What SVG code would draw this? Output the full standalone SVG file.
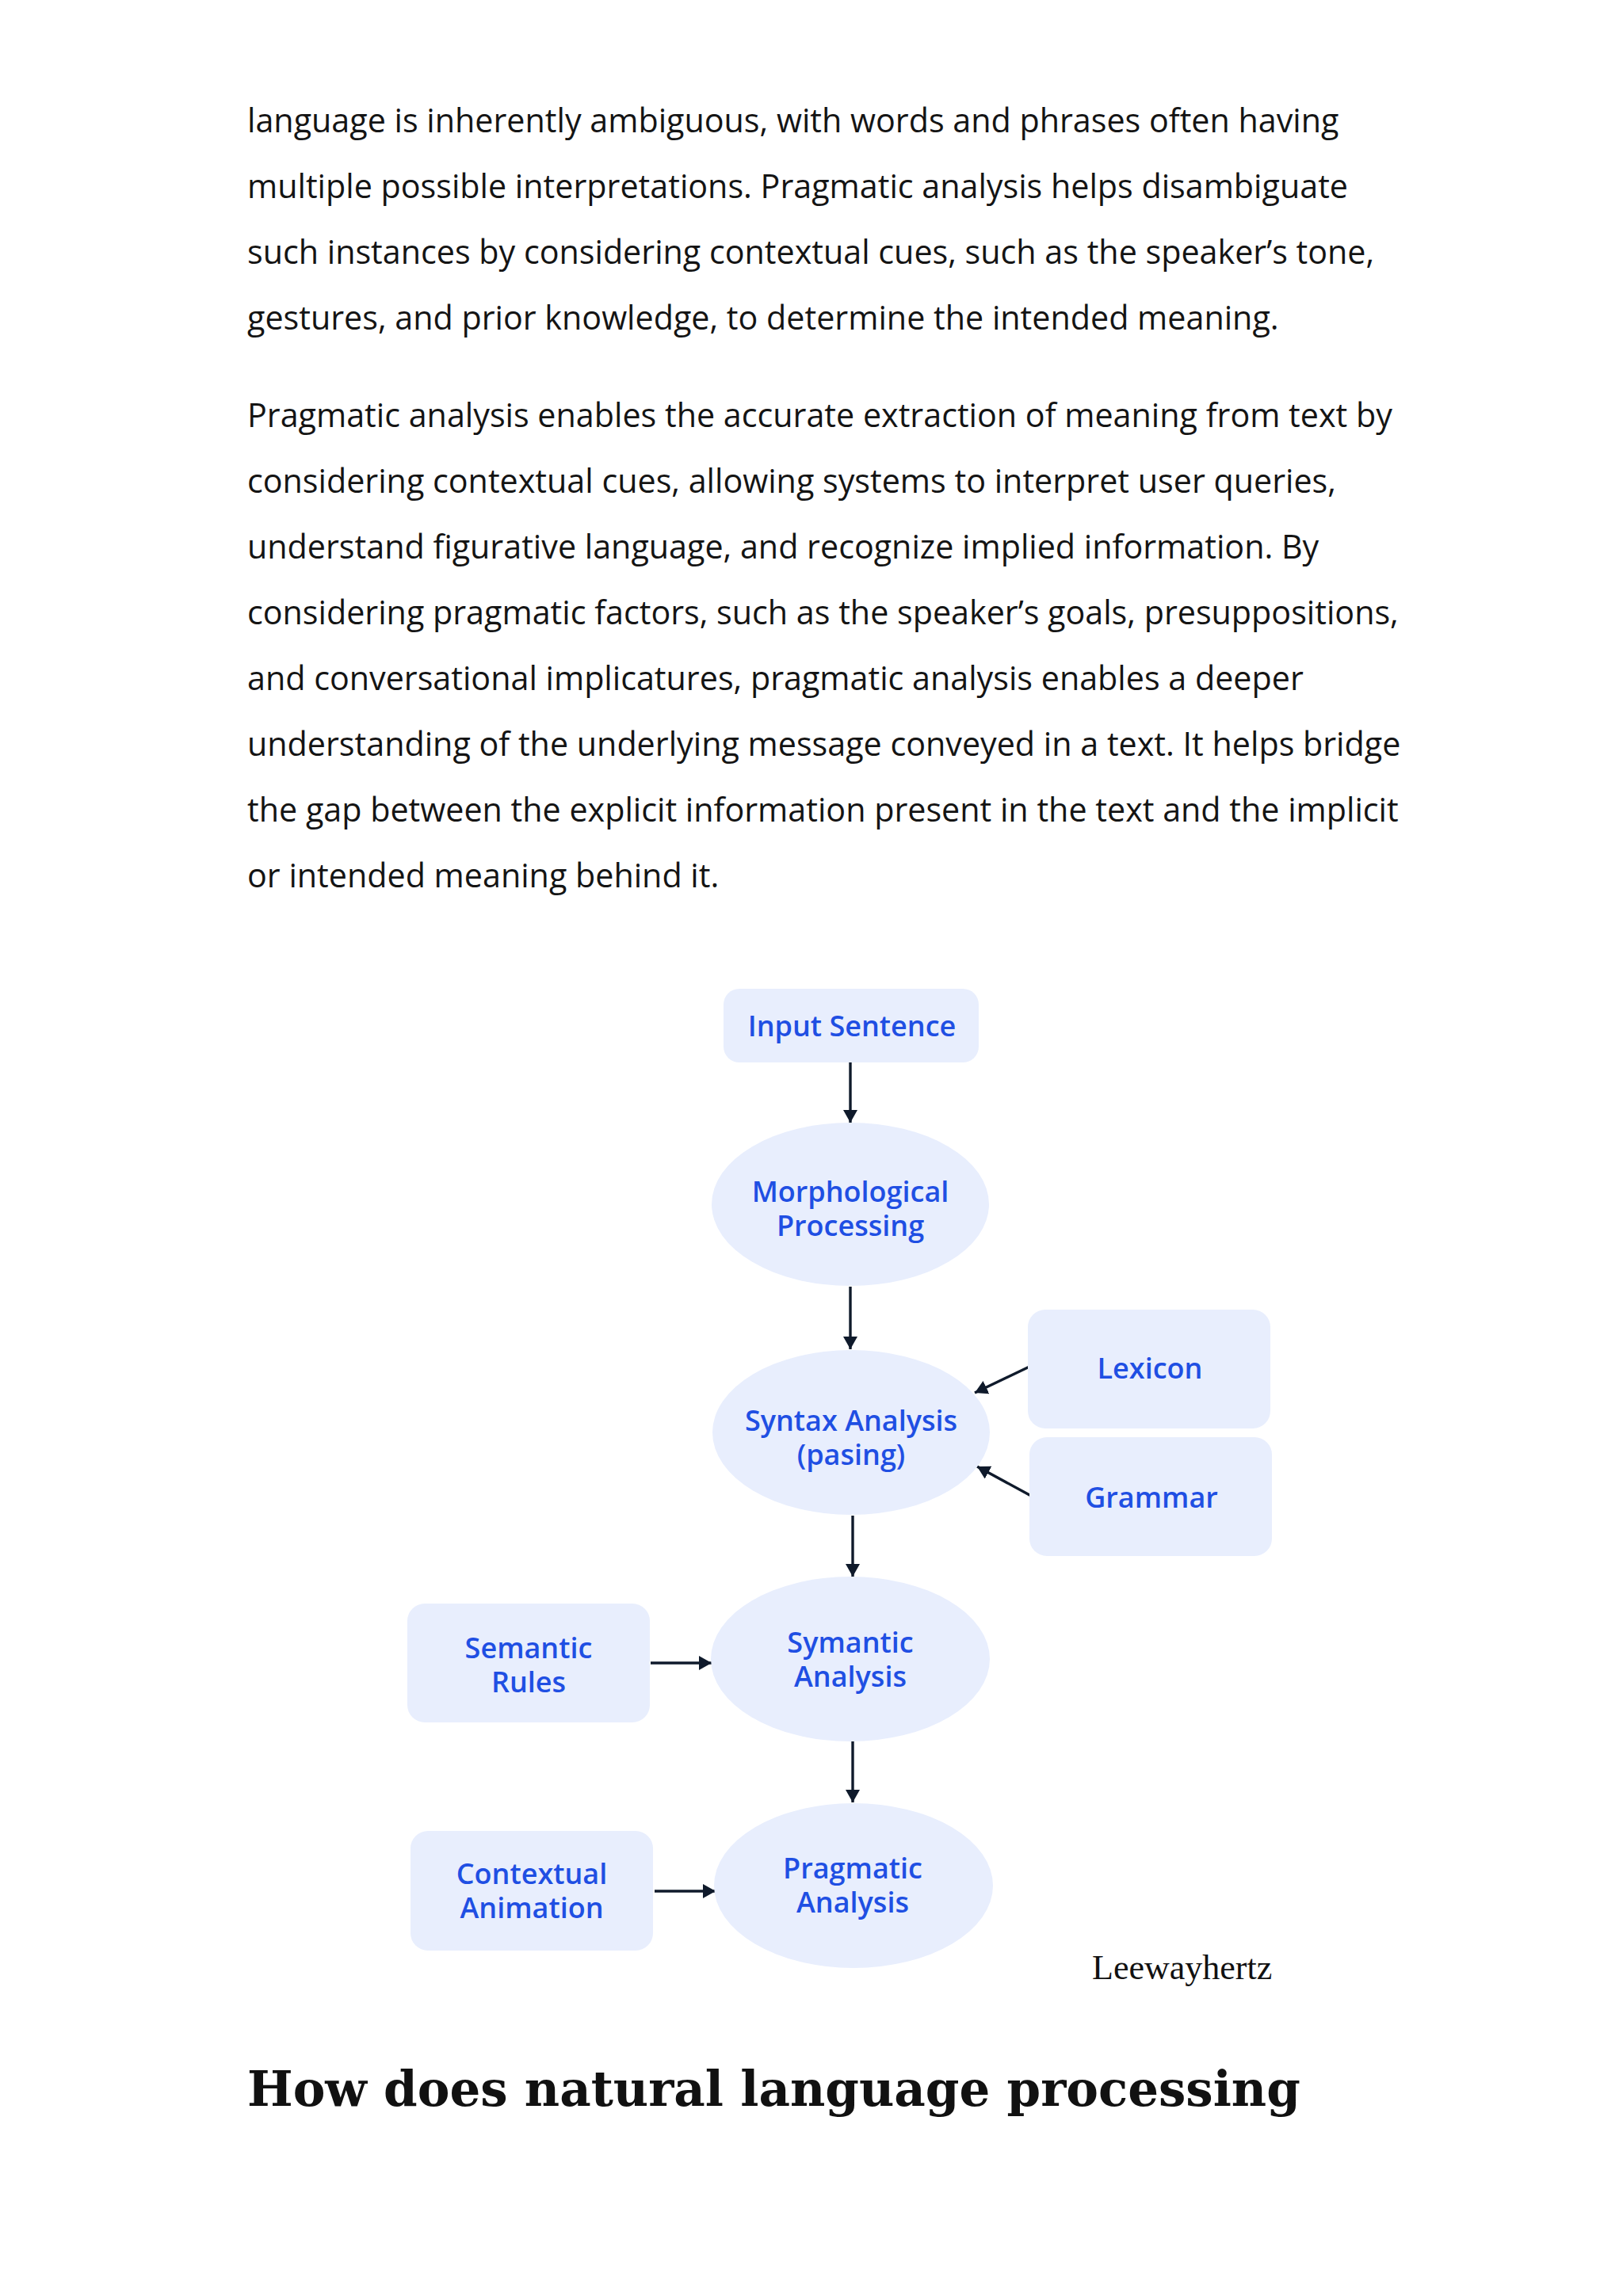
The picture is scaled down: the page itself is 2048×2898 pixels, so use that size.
<svg xmlns="http://www.w3.org/2000/svg" width="2048" height="2898" viewBox="0 0 2048 2898">
<defs>
<style>
.body{font-family:"Open Sans","Noto Sans",sans-serif;font-size:41.25px;fill:#141414}
.lbl{font-family:"Open Sans","Noto Sans",sans-serif;font-size:36px;font-weight:600;fill:#1f4fe3;text-anchor:middle}
.box{fill:#e8eefd}
.ell{fill:#e8eefd}
.con{stroke:#0f1a2b;stroke-width:3.4;fill:none;marker-end:url(#ah)}
.brand{font-family:"Liberation Serif","Times New Roman",serif;font-size:44px;fill:#111}
.head{font-family:"DejaVu Serif","Liberation Serif",serif;font-size:61px;font-weight:bold;fill:#111}
</style>
<marker id="ah" viewBox="0 0 16 18" refX="16" refY="9" markerWidth="16" markerHeight="18" markerUnits="userSpaceOnUse" orient="auto">
<path d="M0,0 L16,9 L0,18 z" fill="#0f1a2b"/>
</marker>
</defs>
<rect width="2048" height="2898" fill="#ffffff"/>
<g id="para1" class="body">
<text x="312" y="167">language is inherently ambiguous, with words and phrases often having</text>
<text x="312" y="250">multiple possible interpretations. Pragmatic analysis helps disambiguate</text>
<text x="312" y="333">such instances by considering contextual cues, such as the speaker’s tone,</text>
<text x="312" y="416">gestures, and prior knowledge, to determine the intended meaning.</text>
</g>
<g id="para2" class="body">
<text x="312" y="539">Pragmatic analysis enables the accurate extraction of meaning from text by</text>
<text x="312" y="622">considering contextual cues, allowing systems to interpret user queries,</text>
<text x="312" y="705">understand figurative language, and recognize implied information. By</text>
<text x="312" y="788">considering pragmatic factors, such as the speaker’s goals, presuppositions,</text>
<text x="312" y="871">and conversational implicatures, pragmatic analysis enables a deeper</text>
<text x="312" y="954">understanding of the underlying message conveyed in a text. It helps bridge</text>
<text x="312" y="1037">the gap between the explicit information present in the text and the implicit</text>
<text x="312" y="1120">or intended meaning behind it.</text>
</g>
<g id="connectors">
<line class="con" x1="1073" y1="1341" x2="1073" y2="1417"/>
<line class="con" x1="1073" y1="1624" x2="1073" y2="1703"/>
<line class="con" x1="1299" y1="1725" x2="1230" y2="1758"/>
<line class="con" x1="1301" y1="1888" x2="1233" y2="1851"/>
<line class="con" x1="1076" y1="1913" x2="1076" y2="1990"/>
<line class="con" x1="1076" y1="2198" x2="1076" y2="2275"/>
<line class="con" x1="821" y1="2099" x2="898" y2="2099"/>
<line class="con" x1="826" y1="2387" x2="903" y2="2387"/>
</g>
<g id="input">
<rect class="box" x="913" y="1248" width="322" height="93" rx="20"/>
<text class="lbl" x="1075" y="1308">Input Sentence</text>
</g>
<g id="morph">
<ellipse class="ell" cx="1073" cy="1520" rx="175" ry="103"/>
<text class="lbl" x="1073" y="1517">Morphological</text>
<text class="lbl" x="1073" y="1560">Processing</text>
</g>
<g id="syntax">
<ellipse class="ell" cx="1074" cy="1808" rx="175" ry="104"/>
<text class="lbl" x="1074" y="1806">Syntax Analysis</text>
<text class="lbl" x="1074" y="1849">(pasing)</text>
</g>
<g id="lexicon">
<rect class="box" x="1297" y="1653" width="306" height="150" rx="22"/>
<text class="lbl" x="1451" y="1740">Lexicon</text>
</g>
<g id="grammar">
<rect class="box" x="1299" y="1814" width="306" height="150" rx="22"/>
<text class="lbl" x="1453" y="1903">Grammar</text>
</g>
<g id="symantic">
<ellipse class="ell" cx="1073" cy="2094" rx="176" ry="104"/>
<text class="lbl" x="1073" y="2086">Symantic</text>
<text class="lbl" x="1073" y="2129">Analysis</text>
</g>
<g id="semantic-rules">
<rect class="box" x="514" y="2024" width="306" height="150" rx="22"/>
<text class="lbl" x="667" y="2093">Semantic</text>
<text class="lbl" x="667" y="2136">Rules</text>
</g>
<g id="pragmatic">
<ellipse class="ell" cx="1077" cy="2380" rx="176" ry="104"/>
<text class="lbl" x="1076" y="2371">Pragmatic</text>
<text class="lbl" x="1076" y="2414">Analysis</text>
</g>
<g id="contextual">
<rect class="box" x="518" y="2311" width="306" height="151" rx="22"/>
<text class="lbl" x="671" y="2378">Contextual</text>
<text class="lbl" x="671" y="2421">Animation</text>
</g>
<text class="brand" x="1378" y="2498">Leewayhertz</text>
<text class="head" x="312" y="2658">How does natural language processing</text>
</svg>
